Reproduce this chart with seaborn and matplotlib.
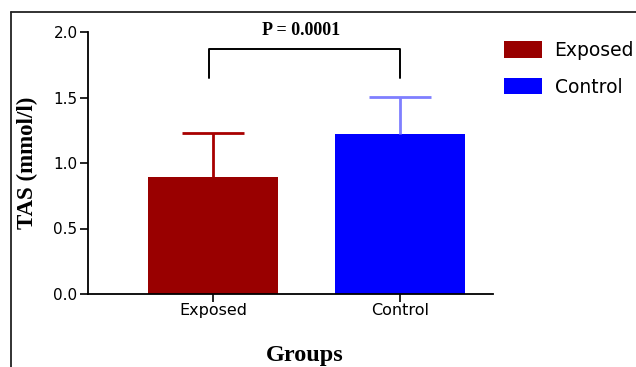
import matplotlib
matplotlib.use("Agg")
import matplotlib.pyplot as plt
from matplotlib.lines import Line2D
from matplotlib.patches import Patch
import seaborn as sns
import pandas as pd

# ---- data ----
groups = ["Exposed", "Control"]
means = [0.895, 1.219]
upper_err = [0.332, 0.287]
bar_colors = ["#990000", "#0000ff"]
err_colors = ["#a80000", "#7f7fff"]
yticks = [0.0, 0.5, 1.0, 1.5, 2.0]
p_text = "P = 0.0001"
bracket_top = 1.87
bracket_leg = 1.65

df = pd.DataFrame({"Group": groups, "TAS": means})

sns.set_theme(style="white")
plt.rcParams["font.family"] = ["DejaVu Sans"]
for k in ["text.color", "axes.labelcolor", "xtick.color", "ytick.color"]:
    plt.rcParams[k] = "black"

W, H = 636, 367
fig = plt.figure(figsize=(W / 100, H / 100), dpi=100)
ax = fig.add_axes([88 / W, 1 - 294 / H, (493 - 88) / W, (294 - 32) / H])

sns.barplot(data=df, x="Group", y="TAS", hue="Group", order=groups,
            hue_order=groups, palette=bar_colors, errorbar=None, saturation=1,
            width=0.695, linewidth=0, ax=ax, legend=False)

for i, (m, e) in enumerate(zip(means, upper_err)):
    _, caps, _ = ax.errorbar(i, m, yerr=[[0], [e]], fmt="none", ecolor=err_colors[i],
                             elinewidth=2.0, capsize=22.3, capthick=2.0, zorder=1)
    caps[0].set_visible(False)

# significance bracket
ax.plot([0 - 0.02, 0 - 0.02, 1, 1], [bracket_leg, bracket_top, bracket_top, bracket_leg],
        color="black", lw=1.4, clip_on=False)
ax.text(0.47, 2.008, p_text, ha="center", va="center", fontsize=13,
        fontweight="bold", family="Liberation Serif", clip_on=False)

ax.set_xlim(-0.668, 1.497)
ax.set_ylim(0, 2.0)
ax.set_yticks(yticks)
ax.set_yticklabels([f"{v:.1f}" for v in yticks])

for s in ["top", "right"]:
    ax.spines[s].set_visible(False)
for s in ["left", "bottom"]:
    ax.spines[s].set_color("black")
    ax.spines[s].set_linewidth(1.3)

ax.tick_params(axis="y", direction="out", length=6, width=1.2, color="black",
               labelsize=11, pad=1.5, left=True)
ax.tick_params(axis="x", direction="inout", length=11, width=1.2, color="black",
               labelsize=11.5, pad=1, bottom=True)

ax.set_ylabel("TAS (mmol/l)", fontsize=16.5, fontweight="bold", family="Liberation Serif")
ax.set_xlabel("Groups", fontsize=17.5, fontweight="bold", family="Liberation Serif")
ax.yaxis.set_label_coords(-0.123, 0.5)
ax.xaxis.set_label_coords(0.536, -0.195)

# legend
handles = [Patch(facecolor=c, edgecolor="none", label=g) for g, c in zip(groups, bar_colors)]
fig.legend(handles=handles, loc="upper left", bbox_to_anchor=(504 / W, 1 - 41 / H),
           frameon=False, fontsize=13.5, handlelength=2.0, handleheight=0.95,
           handletextpad=0.7, labelspacing=0.95, borderpad=0, borderaxespad=0)

# figure border (left and top)
fig.add_artist(Line2D([11 / W, 11 / W], [0, 1 - 12 / H], color="#222222", lw=1.3))
fig.add_artist(Line2D([11 / W, 1], [1 - 12 / H, 1 - 12 / H], color="#222222", lw=1.3))

fig.savefig("out.png", dpi=100)
